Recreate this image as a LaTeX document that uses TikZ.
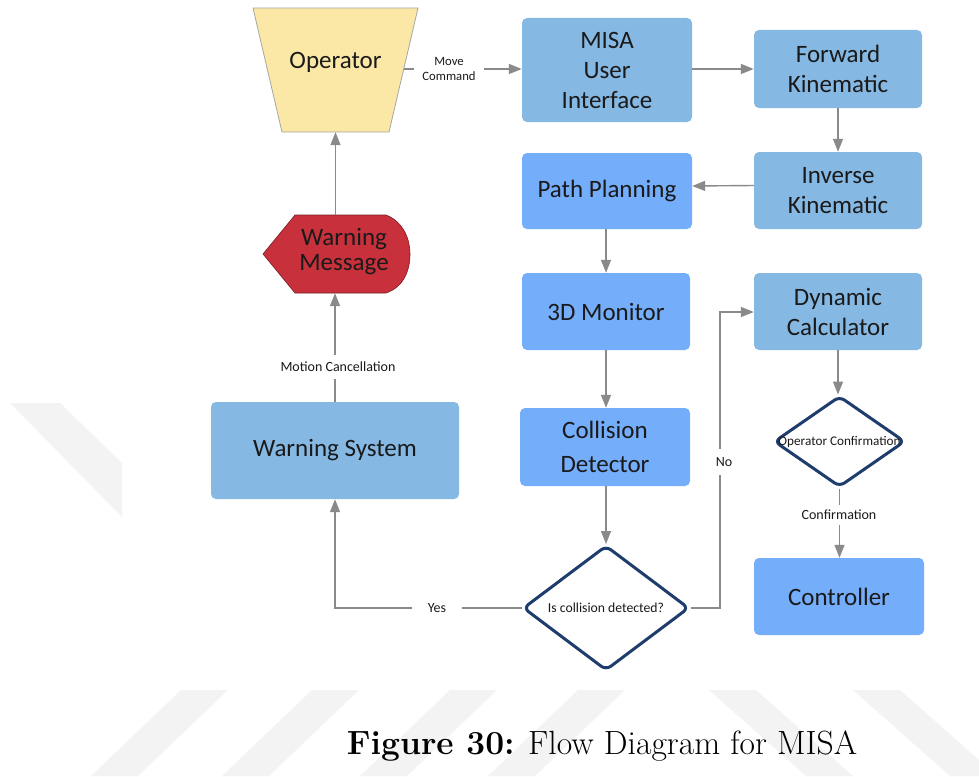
\documentclass[tikz,border=0pt]{standalone}
\usepackage{fontspec}
\newfontfamily\carlito{Carlito}
\usetikzlibrary{shapes.geometric,arrows.meta}
\definecolor{boxlight}{HTML}{85B8E3}
\definecolor{boxbright}{HTML}{74ADFA}
\definecolor{opfill}{HTML}{FCE8A6}
\definecolor{warnred}{HTML}{C8303B}
\definecolor{dianavy}{HTML}{1F3D6C}
\definecolor{linegray}{HTML}{8A8A8A}
\definecolor{txt}{HTML}{1A1A1A}
\definecolor{wmark}{HTML}{F3F3F3}
\tikzset{
  boxbase/.style={rectangle, rounded corners=5pt, draw=none, inner sep=0pt, align=center,
    text=txt, font=\carlito\fontsize{25}{30}\selectfont},
  lbox/.style={boxbase, fill=boxlight},
  bbox/.style={boxbase, fill=boxbright},
  dia/.style={diamond, draw=dianavy, line width=3pt, rounded corners=6pt, fill=white, inner sep=0pt},
  arr/.style={draw=linegray, line width=1.4pt, -{Triangle[length=13pt,width=10pt]}},
  lbl/.style={fill=white, inner xsep=8pt, inner ysep=5pt, text=txt, font=\carlito\fontsize{14}{16}\selectfont, align=center},
  dtext/.style={text=txt, font=\carlito\fontsize{13.7}{15}\selectfont},
}
\begin{document}
\begin{tikzpicture}[x=1pt,y=-1pt]
\useasboundingbox (0,0) rectangle (979,776);
\fill[white] (0,0) rectangle (979,776);
% watermark stripes
\fill[wmark] (10,403) -- (60,403) -- (122,463) -- (122,517) -- cycle;
\foreach \t in {181,312,450,578}{
  \fill[wmark] (\t,690) -- (\t+47,690) -- (\t-43,776) -- (\t-90,776) -- cycle;
}
\foreach \t in {709,853}{
  \fill[wmark] (\t,690) -- (\t+47,690) -- (\t+144,776) -- (\t+97,776) -- cycle;
}
% Operator
\filldraw[fill=opfill, draw=gray!70, line width=0.8pt] (253,8) -- (418,8) -- (389,132) -- (282,132) -- cycle;
\node[minimum width=165pt, minimum height=124pt, inner sep=0pt] (op) at (335.5,70) {};
\coordinate (opR) at (404,69);
\node[text=txt, font=\carlito\fontsize{25}{30}\selectfont] (optext) at (335.5,62) {Operator};
% boxes
\node[lbox, minimum width=170pt, minimum height=104pt] (misa) at (607,70) {MISA\\User\\Interface};
\node[lbox, minimum width=168pt, minimum height=78pt] (fk) at (838,69) {Forward\\Kinematic};
\node[lbox, minimum width=168pt, minimum height=77pt] (ik) at (838,190.5) {Inverse\\Kinematic};
\node[bbox, minimum width=170pt, minimum height=76pt] (pp) at (607,191) {Path Planning};
\node[bbox, minimum width=168pt, minimum height=77pt] (mon) at (606,311.5) {\raisebox{-7pt}{3D Monitor}};
\node[bbox, minimum width=170pt, minimum height=78pt, font=\carlito\fontsize{25}{34}\selectfont] (cd) at (605,447) {Collision\\Detector};
\node[lbox, minimum width=168pt, minimum height=77pt] (dyn) at (838,311.5) {Dynamic\\Calculator};
\node[bbox, minimum width=170pt, minimum height=77pt] (ctrl) at (839,596.5) {Controller};
\node[lbox, minimum width=248pt, minimum height=97pt] (ws) at (335,450.5) {Warning System};
% Warning message
\filldraw[fill=warnred, draw=warnred!60!black, line width=0.6pt] (263,254) -- (295,215) -- (386,215)
  .. controls (404,222) and (410,240) .. (410,254)
  .. controls (410,270) and (404,287) .. (386,293) -- (295,293) -- cycle;
\node[minimum width=147pt, minimum height=78pt, inner sep=0pt] (wm) at (336.5,254) {};
\node[text=txt, align=center, font=\carlito\fontsize{25}{25}\selectfont] (wmtext) at (344,252) {Warning\\Message};
% diamonds
\node[dia, minimum width=166pt, minimum height=125pt] (d1) at (606,608) {};
\node[dtext] (d1t) at (d1.center) {Is collision detected?};
\node[dia, minimum width=131pt, minimum height=91pt] (d2) at (839.5,441.5) {};
\node[dtext, font=\carlito\fontsize{13.2}{15}\selectfont] (d2t) at (d2.center) {Operator Confirmation};
% connectors
\draw[arr] (opR) -- (misa.west |- opR);
\node[lbl, font=\carlito\fontsize{12.7}{15}\selectfont] (mc) at (449,69) {Move\\Command};
\draw[arr] (misa.east |- fk.west) -- (fk.west);
\draw[arr] (fk.south) -- (ik.north);
\draw[arr] ([yshift=5pt]ik.west) -- ([yshift=5pt]pp.east);
\draw[arr] (pp.south -| mon.north) -- (mon.north);
\draw[arr] (mon.south) -- (mon.south |- cd.north);
\draw[arr] (cd.south -| d1.north) -- (d1.north);
\draw[arr] (dyn.south) -- (dyn.south |- d2.north);
\draw[arr] (d2.south) -- (d2.south |- ctrl.north);
\node[lbl] (conf) at (839,515) {Confirmation};
\draw[arr] (d1.east) -- (720,608) -- (720,312) -- (dyn.west |- 0,312);
\node[lbl, inner ysep=8pt] (no) at (724,462) {No};
\draw[arr] (d1.west) -- (335,608) -- (ws.south);
\node[lbl, inner xsep=16pt] (yes) at (437,608) {Yes};
\draw[arr] (ws.north) -- (ws.north |- wm.south);
\node[lbl, inner ysep=7pt] (mcan) at (338,367) {Motion Cancellation};
\draw[arr] (wm.north -| op.south) -- (op.south);
% caption
\node[anchor=base, text=black] (cap) at (602,754) {\fontsize{33.6}{38}\selectfont\textbf{Figure 30:} Flow Diagram for MISA};
\end{tikzpicture}
\end{document}
